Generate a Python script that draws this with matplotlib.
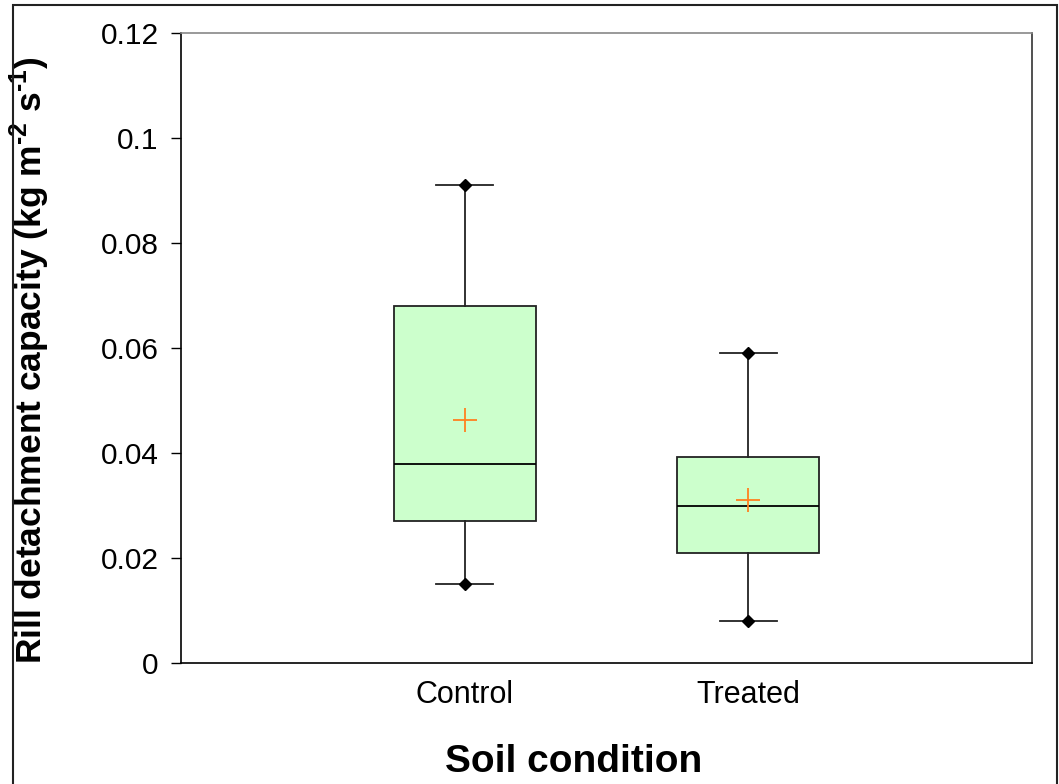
import matplotlib
matplotlib.use("Agg")
import matplotlib.pyplot as plt
from matplotlib.patches import Rectangle

plt.rcParams['font.family'] = ['Liberation Sans', 'DejaVu Sans']
plt.rcParams['mathtext.fontset'] = 'custom'
plt.rcParams['mathtext.rm'] = 'Liberation Sans'
plt.rcParams['mathtext.bf'] = 'Liberation Sans:bold'

categories = ["Control", "Treated"]
whislo = [0.015, 0.008]
q1 = [0.027, 0.021]
med = [0.038, 0.030]
q3 = [0.068, 0.0393]
whishi = [0.091, 0.059]
means = [0.0462, 0.031]
yticks = [0, 0.02, 0.04, 0.06, 0.08, 0.1, 0.12]
yticklabels = ["0", "0.02", "0.04", "0.06", "0.08", "0.1", "0.12"]

fig = plt.figure(figsize=(10.59, 7.84), dpi=100)
ax = fig.add_axes([0.1709, 0.1543, 0.8036, 0.8036])

stats = []
for i, c in enumerate(categories):
    stats.append(dict(label=c, whislo=whislo[i], q1=q1[i], med=med[i],
                      q3=q3[i], whishi=whishi[i], mean=means[i], fliers=[]))

positions = list(range(1, len(categories) + 1))
ax.bxp(stats, positions=positions, widths=0.5, patch_artist=True,
       showmeans=True, showcaps=True,
       boxprops=dict(facecolor='#CCFFCC', edgecolor='#222222', linewidth=1.3),
       medianprops=dict(color='black', linewidth=1.3),
       whiskerprops=dict(color='#222222', linewidth=1.3),
       capprops=dict(color='#222222', linewidth=1.3),
       capwidths=0.2,
       meanprops=dict(marker='+', markeredgecolor='#FF8020', markersize=17,
                      markeredgewidth=1.3))

# diamond markers at whisker ends
ax.plot(positions, whishi, linestyle='none', marker='D', color='black', markersize=6)
ax.plot(positions, whislo, linestyle='none', marker='D', color='black', markersize=6)

ax.set_xlim(0, 3)
ax.set_ylim(0, 0.12)
ax.set_yticks(yticks)
ax.set_yticklabels(yticklabels)
ax.set_xticks(positions)
ax.set_xticklabels(categories)
ax.tick_params(axis='y', direction='out', length=7, width=1, labelsize=21.5, pad=9)
ax.tick_params(axis='x', length=0, labelsize=22, pad=12)

ax.spines['top'].set_color('#888888')
ax.spines['right'].set_color('#333333')
for s in ax.spines.values():
    s.set_linewidth(1.2)

ax.set_xlabel("Soil condition", fontsize=28, fontweight='bold')
ax.xaxis.set_label_coords(0.461, -0.128)
ax.set_ylabel("Rill detachment capacity (kg m$^{\\mathbf{\u2010}\\mathbf{2}}$ s$^{\\mathbf{\u2010}\\mathbf{1}}$)",
              fontsize=25.5, fontweight='bold')
ax.yaxis.set_label_coords(-0.151, 0.48)

# outer frame
fig.patches.append(Rectangle((13 / 1059, -0.02), (1057 - 13) / 1059, 1.02 - 5 / 784,
                             transform=fig.transFigure, fill=False,
                             edgecolor='#222222', linewidth=1.5))

fig.savefig("out.png", dpi=100)
